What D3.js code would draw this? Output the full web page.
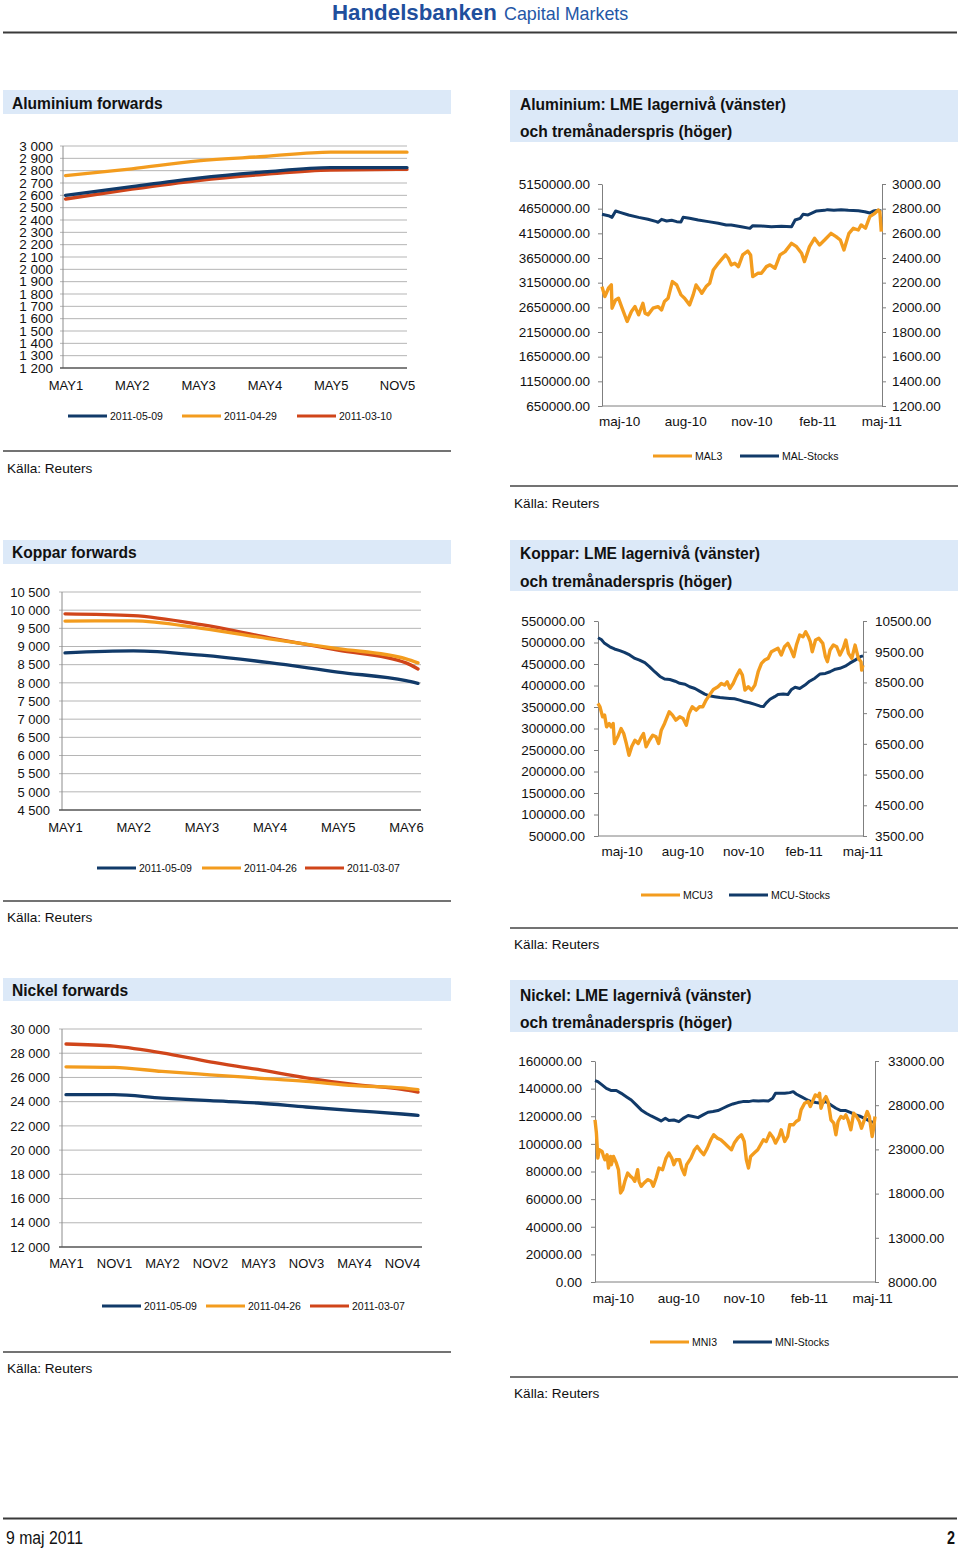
<!DOCTYPE html>
<html><head><meta charset="utf-8">
<script src="https://cdn.jsdelivr.net/npm/d3@7"></script>
<style>
body{margin:0;background:#fff}
svg{display:block}
text{font-family:"Liberation Sans",Arial,sans-serif;fill:#111}
</style>
</head><body>
<svg id="c" width="960" height="1549"></svg>
<script>
// ---------------- DATA ----------------
// Aluminium forwards
const alFwdCats = ["MAY1","MAY2","MAY3","MAY4","MAY5","NOV5"];
const alFwd0509 = [2600, 2670, 2740, 2790, 2825, 2825, 2825];
const alFwd0429 = [2760, 2815, 2880, 2915, 2950, 2950, 2950];
const alFwd0310 = [2570, 2650, 2720, 2770, 2805, 2810, 2810];
const alFwdNames = ["2011-05-09","2011-04-29","2011-03-10"];
const alFwdTicks = d3.range(1200, 3001, 100);

// Copper forwards
const cuFwdCats = ["MAY1","MAY2","MAY3","MAY4","MAY5","MAY6"];
const cuFwd0509 = [8826, 8880, 8760, 8555, 8295, 8060, 7985];
const cuFwd0426 = [9700, 9705, 9500, 9210, 8940, 8660, 8550];
const cuFwd0307 = [9900, 9850, 9600, 9240, 8900, 8550, 8380];
const cuFwdNames = ["2011-05-09","2011-04-26","2011-03-07"];
const cuFwdTicks = d3.range(4500, 10501, 500);

// Nickel forwards
const niFwdCats = ["MAY1","NOV1","MAY2","NOV2","MAY3","NOV3","MAY4","NOV4"];
const niFwd0509 = [24580, 24580, 24300, 24080, 23890, 23560, 23260, 22980, 22870];
const niFwd0426 = [26880, 26830, 26500, 26220, 25950, 25680, 25320, 25130, 24990];
const niFwd0307 = [28760, 28580, 28030, 27290, 26660, 25970, 25420, 25010, 24790];
const niFwdNames = ["2011-05-09","2011-04-26","2011-03-07"];
const niFwdTicks = d3.range(12000, 30001, 2000);

// Time axis labels (shared)
const monthTickDates = ["2010-05-01","2010-08-01","2010-11-01","2011-02-01","2011-05-01"];
const monthTickLabels = ["maj-10","aug-10","nov-10","feb-11","maj-11"];

// Aluminium LME stocks (left) and 3M price (right)
const alStockTicks = d3.range(650000, 5150001, 500000);
const alPriceTicks = d3.range(1200, 3001, 200);
const alMAL3 = [["2010-04-07",2168],["2010-04-11",2087],["2010-04-16",2155],["2010-04-20",2182],["2010-04-21",1993],["2010-04-26",2060],["2010-04-30",2074],["2010-05-05",1993],["2010-05-12",1885],["2010-05-18",1966],["2010-05-23",2006],["2010-05-28",1939],["2010-06-03",2033],["2010-06-06",1952],["2010-06-10",1939],["2010-06-17",1993],["2010-06-24",2006],["2010-06-29",1979],["2010-07-03",2047],["2010-07-08",2074],["2010-07-14",2209],["2010-07-20",2182],["2010-07-26",2101],["2010-07-31",2074],["2010-08-07",2020],["2010-08-12",2101],["2010-08-16",2182],["2010-08-21",2141],["2010-08-24",2114],["2010-08-30",2168],["2010-09-04",2195],["2010-09-09",2303],["2010-09-16",2357],["2010-09-20",2384],["2010-09-26",2425],["2010-09-30",2398],["2010-10-04",2344],["2010-10-09",2357],["2010-10-14",2330],["2010-10-20",2425],["2010-10-27",2457],["2010-10-31",2425],["2010-11-03",2249],["2010-11-10",2276],["2010-11-15",2276],["2010-11-22",2330],["2010-11-27",2344],["2010-12-04",2317],["2010-12-11",2425],["2010-12-18",2452],["2010-12-27",2519],["2011-01-03",2492],["2011-01-10",2438],["2011-01-14",2371],["2011-01-21",2492],["2011-01-28",2560],["2011-02-04",2506],["2011-02-11",2546],["2011-02-20",2600],["2011-02-27",2573],["2011-03-05",2546],["2011-03-10",2465],["2011-03-17",2600],["2011-03-23",2641],["2011-03-30",2627],["2011-04-03",2668],["2011-04-09",2641],["2011-04-15",2735],["2011-04-22",2762],["2011-04-27",2789],["2011-04-29",2776],["2011-05-01",2614]];
const alStocks = [["2010-04-07",4535000],["2010-04-16",4508000],["2010-04-21",4474000],["2010-04-26",4603000],["2010-05-02",4576000],["2010-05-14",4522000],["2010-05-28",4474000],["2010-06-10",4434000],["2010-06-22",4387000],["2010-06-24",4373000],["2010-06-29",4434000],["2010-07-06",4400000],["2010-07-13",4414000],["2010-07-20",4387000],["2010-07-26",4380000],["2010-07-29",4474000],["2010-08-07",4454000],["2010-08-19",4420000],["2010-09-02",4387000],["2010-09-16",4353000],["2010-09-27",4319000],["2010-10-04",4319000],["2010-10-18",4285000],["2010-10-30",4251000],["2010-11-03",4305000],["2010-11-15",4299000],["2010-11-29",4285000],["2010-12-13",4292000],["2010-12-27",4285000],["2011-01-01",4420000],["2011-01-08",4454000],["2011-01-12",4535000],["2011-01-19",4522000],["2011-01-31",4603000],["2011-02-11",4616000],["2011-02-15",4630000],["2011-02-24",4616000],["2011-03-06",4630000],["2011-03-16",4616000],["2011-03-30",4609000],["2011-04-08",4589000],["2011-04-15",4562000],["2011-04-20",4603000],["2011-04-27",4616000],["2011-05-01",4603000]];

// Copper
const cuStockTicks = d3.range(50000, 550001, 50000);
const cuPriceTicks = d3.range(3500, 10501, 1000);
const cuMCU3 = [["2010-03-26",7815],["2010-03-29",7706],["2010-04-02",7380],["2010-04-05",7435],["2010-04-08",7054],["2010-04-12",7163],["2010-04-15",7054],["2010-04-18",7163],["2010-04-20",6511],["2010-04-25",6728],["2010-04-30",7000],["2010-05-04",6837],["2010-05-08",6511],["2010-05-12",6130],["2010-05-16",6402],["2010-05-21",6619],["2010-05-26",6511],["2010-05-31",6728],["2010-06-03",6837],["2010-06-07",6402],["2010-06-12",6619],["2010-06-17",6782],["2010-06-22",6728],["2010-06-26",6511],["2010-06-30",6946],["2010-07-05",7163],["2010-07-12",7543],["2010-07-17",7435],["2010-07-22",7272],["2010-07-28",7380],["2010-08-02",7326],["2010-08-07",7109],["2010-08-11",7489],["2010-08-16",7706],["2010-08-22",7598],["2010-08-27",7706],["2010-09-01",7706],["2010-09-06",7924],["2010-09-11",8087],["2010-09-17",8272],["2010-09-24",8359],["2010-09-29",8467],["2010-10-04",8413],["2010-10-08",8522],["2010-10-12",8304],["2010-10-17",8467],["2010-10-22",8706],["2010-10-27",8902],["2010-10-31",8739],["2010-11-04",8250],["2010-11-09",8359],["2010-11-14",8250],["2010-11-19",8413],["2010-11-24",8848],["2010-11-29",9120],["2010-12-04",9228],["2010-12-09",9283],["2010-12-14",9500],["2010-12-19",9554],["2010-12-24",9609],["2010-12-29",9391],["2011-01-03",9663],["2011-01-08",9772],["2011-01-13",9554],["2011-01-17",9337],["2011-01-21",9717],["2011-01-26",10043],["2011-01-31",9989],["2011-02-04",10152],["2011-02-08",9989],["2011-02-11",9826],["2011-02-14",9500],["2011-02-19",9880],["2011-02-24",9935],["2011-03-02",9772],["2011-03-06",9337],["2011-03-09",9174],["2011-03-13",9554],["2011-03-18",9717],["2011-03-23",9663],["2011-03-28",9391],["2011-04-02",9609],["2011-04-06",9880],["2011-04-10",9446],["2011-04-15",9283],["2011-04-20",9717],["2011-04-25",9283],["2011-04-29",9174],["2011-04-30",8902],["2011-05-02",9065]];
const cuStocks = [["2010-03-26",511000],["2010-03-31",507000],["2010-04-05",498000],["2010-04-13",490000],["2010-04-20",485000],["2010-04-28",481000],["2010-05-05",477000],["2010-05-13",471000],["2010-05-21",463000],["2010-05-28",459000],["2010-06-05",453000],["2010-06-12",444000],["2010-06-20",432000],["2010-06-28",421000],["2010-07-05",415000],["2010-07-13",414000],["2010-07-21",410000],["2010-07-28",405000],["2010-08-05",403000],["2010-08-12",397000],["2010-08-20",393000],["2010-08-27",387000],["2010-09-04",380000],["2010-09-11",376000],["2010-09-19",374000],["2010-09-27",372000],["2010-10-04",371000],["2010-10-12",370000],["2010-10-19",369000],["2010-10-27",366000],["2010-11-04",362000],["2010-11-11",360000],["2010-11-19",356000],["2010-11-27",352000],["2010-12-02",351000],["2010-12-06",359000],["2010-12-12",368000],["2010-12-19",374000],["2010-12-24",379000],["2011-01-01",380000],["2011-01-08",379000],["2011-01-13",390000],["2011-01-19",396000],["2011-01-26",393000],["2011-02-03",401000],["2011-02-10",410000],["2011-02-18",417000],["2011-02-26",427000],["2011-03-06",428000],["2011-03-13",432000],["2011-03-21",438000],["2011-03-28",440000],["2011-04-05",445000],["2011-04-12",452000],["2011-04-20",459000],["2011-04-28",467000],["2011-05-02",469000]];

// Nickel
const niStockTicks = d3.range(0, 160001, 20000);
const niPriceTicks = d3.range(8000, 33001, 5000);
const niMNI3 = [["2010-04-06",26345],["2010-04-08",24841],["2010-04-10",22021],["2010-04-12",22961],["2010-04-16",22773],["2010-04-18",22209],["2010-04-20",21833],["2010-04-23",22397],["2010-04-25",20893],["2010-04-28",22209],["2010-04-29",21269],["2010-05-02",22209],["2010-05-06",21457],["2010-05-09",20705],["2010-05-12",18073],["2010-05-15",18449],["2010-05-18",19389],["2010-05-22",20329],["2010-05-26",19953],["2010-05-29",19765],["2010-06-01",19389],["2010-06-05",20705],["2010-06-07",19389],["2010-06-10",18825],["2010-06-14",19201],["2010-06-19",19577],["2010-06-24",19389],["2010-06-27",18825],["2010-07-01",19765],["2010-07-05",20893],["2010-07-10",20705],["2010-07-15",22021],["2010-07-19",22585],["2010-07-23",22021],["2010-07-26",21269],["2010-07-29",21833],["2010-08-03",21833],["2010-08-06",20893],["2010-08-10",20141],["2010-08-13",21269],["2010-08-19",22021],["2010-08-24",22961],["2010-08-28",23337],["2010-09-02",22773],["2010-09-06",22397],["2010-09-11",23149],["2010-09-16",24089],["2010-09-20",24653],["2010-09-25",24277],["2010-09-30",24089],["2010-10-05",23713],["2010-10-10",23337],["2010-10-15",22961],["2010-10-19",23713],["2010-10-24",24277],["2010-10-29",24653],["2010-11-02",23901],["2010-11-05",21833],["2010-11-08",20893],["2010-11-11",22209],["2010-11-16",22585],["2010-11-21",22961],["2010-11-25",23525],["2010-11-29",24089],["2010-12-03",23901],["2010-12-08",24841],["2010-12-13",24277],["2010-12-16",23713],["2010-12-21",24465],["2010-12-24",25217],["2010-12-29",23901],["2011-01-02",24465],["2011-01-05",25781],["2011-01-10",25781],["2011-01-14",26157],["2011-01-18",26345],["2011-01-21",27473],["2011-01-26",28225],["2011-01-31",28413],["2011-02-03",27849],["2011-02-07",28601],["2011-02-10",29165],["2011-02-14",28977],["2011-02-16",29353],["2011-02-18",27661],["2011-02-22",28601],["2011-02-25",28977],["2011-02-28",28413],["2011-03-04",26345],["2011-03-08",25969],["2011-03-11",24653],["2011-03-14",26157],["2011-03-18",26721],["2011-03-22",26533],["2011-03-25",26909],["2011-03-28",26345],["2011-04-01",25217],["2011-04-05",27097],["2011-04-09",26721],["2011-04-13",26157],["2011-04-16",25405],["2011-04-20",26345],["2011-04-24",27285],["2011-04-27",26721],["2011-05-01",24465],["2011-05-03",25405],["2011-05-05",26721]];
const niStocks = [["2010-04-06",145800],["2010-04-10",145100],["2010-04-15",143100],["2010-04-22",140200],["2010-04-29",138600],["2010-05-06",138600],["2010-05-13",136600],["2010-05-20",134200],["2010-05-27",131800],["2010-06-03",128200],["2010-06-10",124600],["2010-06-17",122200],["2010-06-24",120200],["2010-07-01",118500],["2010-07-08",116600],["2010-07-14",118500],["2010-07-19",116900],["2010-07-26",117300],["2010-08-02",116100],["2010-08-08",118500],["2010-08-15",120500],["2010-08-22",119800],["2010-08-29",119000],["2010-09-05",121000],["2010-09-12",122900],["2010-09-19",123400],["2010-09-26",124100],["2010-10-03",125800],["2010-10-10",127500],["2010-10-17",128900],["2010-10-24",129900],["2010-10-31",130600],["2010-11-08",130600],["2010-11-15",131300],["2010-11-22",131100],["2010-11-29",131300],["2010-12-06",131100],["2010-12-12",133000],["2010-12-16",136600],["2010-12-22",136600],["2010-12-29",136600],["2011-01-05",137100],["2011-01-10",137800],["2011-01-14",136100],["2011-01-21",134200],["2011-01-28",132300],["2011-02-04",130600],["2011-02-11",129900],["2011-02-18",129400],["2011-02-25",130600],["2011-03-04",128200],["2011-03-11",125800],["2011-03-18",124100],["2011-03-25",124100],["2011-04-01",122600],["2011-04-08",121000],["2011-04-15",119800],["2011-04-22",118100],["2011-04-29",116100],["2011-05-05",115400]];

// ---------------- STYLE ----------------
const NAVY = "#113a69", ORANGE = "#f39c1e", RED = "#d0451a";
const BAND = "#dce9f8";
const parse = d3.timeParse("%Y-%m-%d");
const fmtSpace = d3.formatLocale({decimal:",", thousands:" ", grouping:[3], currency:["",""]}).format(",.0f");
const fmt2 = d3.format(".2f");

const svg = d3.select("#c");
svg.append("rect").attr("width",960).attr("height",1549).attr("fill","#fff");

// Header
svg.append("text").attr("x",332).attr("y",20).attr("font-size",22.3).attr("font-weight","bold")
  .style("fill","#1f4f9d").text("Handelsbanken");
svg.append("text").attr("x",504).attr("y",20).attr("font-size",17.9)
  .style("fill","#2457a6").text("Capital Markets");
svg.append("line").attr("x1",3).attr("x2",957).attr("y1",32.5).attr("y2",32.5).attr("stroke","#3a3a3a").attr("stroke-width",2);

// Footer
svg.append("line").attr("x1",3).attr("x2",957).attr("y1",1518.5).attr("y2",1518.5).attr("stroke","#3a3a3a").attr("stroke-width",2);
svg.append("text").attr("x",6).attr("y",1544).attr("font-size",17.5)
  .attr("textLength",77).attr("lengthAdjust","spacingAndGlyphs").text("9 maj 2011");
svg.append("text").attr("x",955).attr("y",1544).attr("font-size",17.5).attr("font-weight","bold").attr("text-anchor","end")
  .attr("textLength",8).attr("lengthAdjust","spacingAndGlyphs").text("2");

function titleBand(b, lines, tx, tys) {
  svg.append("rect").attr("x",b[0]).attr("y",b[1]).attr("width",b[2]-b[0]).attr("height",b[3]-b[1]).attr("fill",BAND);
  lines.forEach((t,i)=> svg.append("text").attr("x",tx).attr("y",tys[i]).attr("font-size",15.6).attr("font-weight","bold").text(t));
}
function source(x0, x1, sepY, tx, ty) {
  svg.append("line").attr("x1",x0).attr("x2",x1).attr("y1",sepY).attr("y2",sepY).attr("stroke","#444").attr("stroke-width",1.5);
  svg.append("text").attr("x",tx).attr("y",ty).attr("font-size",13.6).text("Källa: Reuters");
}
function legend(y, xs, items) {
  items.forEach((it,i)=>{
    svg.append("line").attr("x1",xs[i]).attr("x2",xs[i]+39).attr("y1",y).attr("y2",y).attr("stroke",it.color).attr("stroke-width",3.2);
    svg.append("text").attr("x",xs[i]+42).attr("y",y+3.7).attr("font-size",10.5).text(it.name);
  });
}

// ---------------- FORWARD CHARTS ----------------
function forwardChart(c) {
  titleBand(c.band, [c.title], 12, [c.titleY]);
  const p = c.plot;
  const y = d3.scaleLinear().domain(d3.extent(c.ticks)).range([p.bottom, p.top]);
  svg.append("g").selectAll("line").data(c.ticks.slice(1)).join("line")
    .attr("x1",p.left-3).attr("x2",p.right).attr("y1",d=>y(d)).attr("y2",d=>y(d))
    .attr("stroke","#b5b5b5").attr("stroke-width",1);
  svg.append("line").attr("x1",p.left).attr("x2",p.left).attr("y1",p.top).attr("y2",p.bottom).attr("stroke","#8c8c8c");
  svg.append("line").attr("x1",p.left-3).attr("x2",p.right).attr("y1",p.bottom).attr("y2",p.bottom).attr("stroke","#555").attr("stroke-width",1.3);
  const ya = svg.append("g").attr("transform",`translate(${p.left},0)`)
    .call(d3.axisLeft(y).tickValues(c.ticks).tickFormat(fmtSpace).tickSize(0).tickPadding(c.yPad));
  ya.select(".domain").remove();
  ya.selectAll("text").attr("font-size",c.yFont).attr("font-family",null).style("fill","#111");
  const xi = d3.scaleLinear().domain([0, c.cats.length-1]).range([c.firstX, c.lastX]);
  const xa = svg.append("g").attr("transform",`translate(0,${p.bottom})`)
    .call(d3.axisBottom(xi).tickValues(d3.range(c.cats.length)).tickFormat(i=>c.cats[i]).tickSize(0).tickPadding(0));
  xa.select(".domain").remove();
  xa.selectAll("text").attr("font-size",13).attr("font-family",null).attr("dy",null).attr("y",c.xBase-p.bottom).style("fill","#111");
  const n = c.cats.length;
  const line = d3.line().x((d,i)=> i < n ? xi(i) : c.endX).y(d=>y(d)).curve(d3.curveMonotoneX);
  c.series.slice().reverse().forEach(s=>{
    svg.append("path").datum(s.values).attr("d",line).attr("fill","none")
      .attr("stroke",s.color).attr("stroke-width",3.3).attr("stroke-linecap","round");
  });
  legend(c.legendY, c.legendXs, c.series);
  source(3, 451, c.sepY, 7, c.srcY);
}

forwardChart({
  band:[3,90,451,114], title:"Aluminium forwards", titleY:109,
  plot:{left:63,right:407,top:146,bottom:368}, ticks:alFwdTicks, yPad:10, yFont:13.5,
  cats:alFwdCats, firstX:65.5, lastX:397, endX:407, xBase:390,
  series:[{name:alFwdNames[0],values:alFwd0509,color:NAVY},{name:alFwdNames[1],values:alFwd0429,color:ORANGE},{name:alFwdNames[2],values:alFwd0310,color:RED}],
  legendY:416, legendXs:[68,182,297], sepY:451, srcY:473
});
forwardChart({
  band:[3,540,451,564], title:"Koppar forwards", titleY:558,
  plot:{left:62,right:421,top:592,bottom:810}, ticks:cuFwdTicks, yPad:12, yFont:13,
  cats:cuFwdCats, firstX:65, lastX:406, endX:418, xBase:832,
  series:[{name:cuFwdNames[0],values:cuFwd0509,color:NAVY},{name:cuFwdNames[1],values:cuFwd0426,color:ORANGE},{name:cuFwdNames[2],values:cuFwd0307,color:RED}],
  legendY:868, legendXs:[97,202,305], sepY:901, srcY:922
});
forwardChart({
  band:[3,978,451,1001], title:"Nickel forwards", titleY:996,
  plot:{left:62,right:422,top:1029,bottom:1247}, ticks:niFwdTicks, yPad:12, yFont:13,
  cats:niFwdCats, firstX:66, lastX:402, endX:418, xBase:1268,
  series:[{name:niFwdNames[0],values:niFwd0509,color:NAVY},{name:niFwdNames[1],values:niFwd0426,color:ORANGE},{name:niFwdNames[2],values:niFwd0307,color:RED}],
  legendY:1306, legendXs:[102,206,310], sepY:1352, srcY:1373
});

// ---------------- LME STOCK / PRICE CHARTS ----------------
function lmeChart(c) {
  titleBand(c.band, c.titles, 520, c.titleYs);
  const p = c.plot;
  const x = d3.scaleTime().domain(c.xDomain.map(parse)).range([p.left, p.right]);
  const yL = d3.scaleLinear().domain(d3.extent(c.leftTicks)).range([p.bottom, p.top]);
  const yR = d3.scaleLinear().domain(d3.extent(c.rightTicks)).range([p.bottom, p.top]);
  const axColor = "#7f7f7f";
  const la = svg.append("g").attr("transform",`translate(${p.left},0)`)
    .call(d3.axisLeft(yL).tickValues(c.leftTicks).tickFormat(fmt2).tickSize(4).tickSizeOuter(0).tickPadding(c.padL));
  const ra = svg.append("g").attr("transform",`translate(${p.right},0)`)
    .call(d3.axisRight(yR).tickValues(c.rightTicks).tickFormat(fmt2).tickSize(4).tickSizeOuter(0).tickPadding(c.padR));
  [la,ra].forEach(a=>{
    a.select(".domain").attr("stroke",axColor);
    a.selectAll(".tick line").attr("stroke",axColor);
    a.selectAll("text").attr("font-size",13.5).attr("font-family",null).style("fill","#111");
  });
  svg.append("line").attr("x1",p.left).attr("x2",p.right).attr("y1",p.bottom).attr("y2",p.bottom).attr("stroke",axColor);
  const xa = svg.append("g").attr("transform",`translate(0,${p.bottom})`)
    .call(d3.axisBottom(x).tickValues(monthTickDates.map(parse)).tickFormat((d,i)=>monthTickLabels[i]).tickSize(0));
  xa.select(".domain").remove();
  xa.selectAll("text").attr("font-size",13.5).attr("font-family",null).attr("dy",null).attr("y",c.xBase-p.bottom).style("fill","#111");
  const lineL = d3.line().x(d=>x(parse(d[0]))).y(d=>yL(d[1]));
  const lineR = d3.line().x(d=>x(parse(d[0]))).y(d=>yR(d[1]));
  svg.append("path").datum(c.stocks).attr("d",lineL).attr("fill","none").attr("stroke",NAVY).attr("stroke-width",3).attr("stroke-linejoin","round");
  svg.append("path").datum(c.price).attr("d",lineR).attr("fill","none").attr("stroke",ORANGE).attr("stroke-width",3.4).attr("stroke-linejoin","round");
  legend(c.legendY, c.legendXs, [{name:c.names[0],color:ORANGE},{name:c.names[1],color:NAVY}]);
  source(510, 958, c.sepY, 514, c.srcY);
}

lmeChart({
  band:[510,90,958,142], titles:["Aluminium: LME lagernivå (vänster)","och tremånaderspris (höger)"], titleYs:[110,137],
  plot:{left:602,right:882,top:184,bottom:406}, xDomain:["2010-04-07","2011-05-02"],
  leftTicks:alStockTicks, rightTicks:alPriceTicks, padL:8, padR:6, xBase:426,
  stocks:alStocks, price:alMAL3, names:["MAL3","MAL-Stocks"],
  legendY:456, legendXs:[653,740], sepY:486, srcY:508
});
lmeChart({
  band:[510,540,958,591], titles:["Koppar: LME lagernivå (vänster)","och tremånaderspris (höger)"], titleYs:[559,587],
  plot:{left:598,right:863,top:621,bottom:836}, xDomain:["2010-03-26","2011-05-02"],
  leftTicks:cuStockTicks, rightTicks:cuPriceTicks, padL:9, padR:8, xBase:856,
  stocks:cuStocks, price:cuMCU3, names:["MCU3","MCU-Stocks"],
  legendY:895, legendXs:[641,729], sepY:928, srcY:949
});
lmeChart({
  band:[510,980,958,1032], titles:["Nickel: LME lagernivå (vänster)","och tremånaderspris (höger)"], titleYs:[1001,1028],
  plot:{left:595,right:875,top:1061,bottom:1282}, xDomain:["2010-04-06","2011-05-05"],
  leftTicks:niStockTicks, rightTicks:niPriceTicks, padL:9, padR:9, xBase:1303,
  stocks:niStocks, price:niMNI3, names:["MNI3","MNI-Stocks"],
  legendY:1342, legendXs:[650,733], sepY:1377, srcY:1398
});
</script>
</body></html>
